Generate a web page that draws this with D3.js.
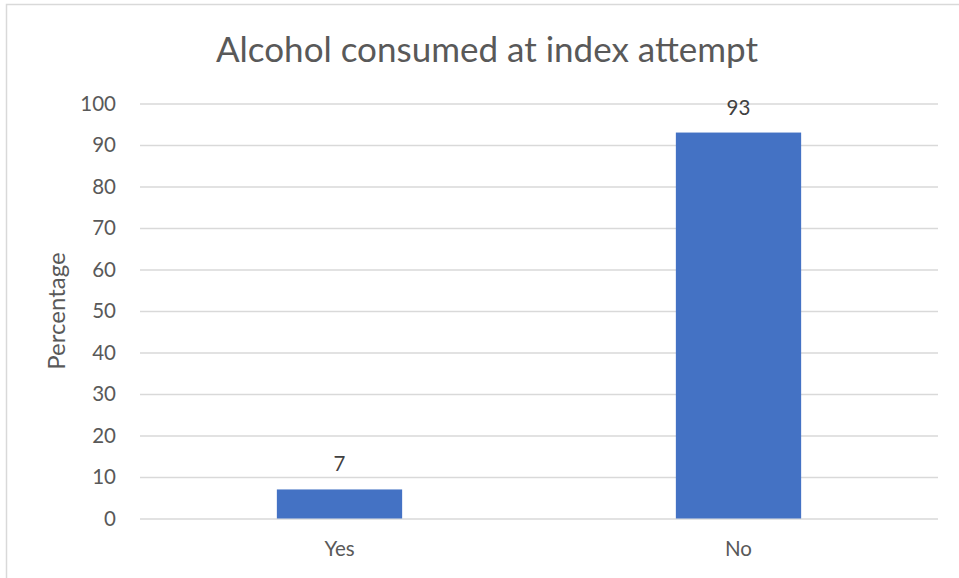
<!DOCTYPE html>
<html>
<head>
<meta charset="utf-8">
<script src="https://cdn.jsdelivr.net/npm/d3@7"></script>
<style>
  html, body { margin: 0; padding: 0; background: #fff; }
  svg { display: block; }
  text { font-family: Lato, "Open Sans", sans-serif; }
</style>
</head>
<body>
<svg id="chart" width="959" height="578"></svg>
<script>
// Share of attempts with alcohol consumed
const categories = ["Yes", "No"];
const values = [7, 93];
const yTicks = [0, 10, 20, 30, 40, 50, 60, 70, 80, 90, 100];
const titleText = "Alcohol consumed at index attempt";
const yAxisTitle = "Percentage";

const W = 959, H = 578;
const margin = { top: 103.5, right: 21, bottom: 59.5, left: 140 };
const svg = d3.select("#chart");

// Chart frame
svg.append("rect")
  .attr("x", 6.5).attr("y", 4.5)
  .attr("width", W + 10).attr("height", H + 10)
  .attr("fill", "#fff")
  .attr("stroke", "#d9d9d9")
  .attr("stroke-width", 1.5);

const x = d3.scaleBand()
  .domain(categories)
  .range([margin.left, W - margin.right])
  .padding(0);

const y = d3.scaleLinear()
  .domain([0, 100])
  .range([H - margin.bottom, margin.top]);

const barWidth = x.bandwidth() * 0.314;

// Gridlines and tick labels
const yAxis = d3.axisLeft(y)
  .tickValues(yTicks)
  .tickSize(-(W - margin.right - margin.left))
  .tickPadding(24);

const gy = svg.append("g")
  .attr("transform", `translate(${margin.left},0)`)
  .call(yAxis);
gy.select(".domain").remove();
gy.selectAll(".tick line")
  .attr("stroke", "#d9d9d9")
  .attr("stroke-width", 1.4);
gy.selectAll(".tick text")
  .attr("fill", "#595959")
  .attr("font-size", "20.5px")
  .style("font-family", "Lato, sans-serif");

// Bars
svg.append("g")
  .selectAll("rect")
  .data(categories)
  .join("rect")
  .attr("x", (d) => x(d) + x.bandwidth() / 2 - barWidth / 2)
  .attr("width", barWidth)
  .attr("y", (d, i) => y(values[i]))
  .attr("height", (d, i) => y(0) - y(values[i]))
  .attr("fill", "#4472c4");

// Value labels
svg.append("g")
  .selectAll("text")
  .data(categories)
  .join("text")
  .attr("x", (d) => x(d) + x.bandwidth() / 2)
  .attr("y", (d, i) => y(values[i]) - 18)
  .attr("text-anchor", "middle")
  .attr("fill", "#404040")
  .attr("font-size", "20.5px")
  .text((d, i) => values[i]);

// Category axis
const xAxis = d3.axisBottom(x).tickSize(0).tickPadding(23);
const gx = svg.append("g")
  .attr("transform", `translate(0,${H - margin.bottom})`)
  .call(xAxis);
gx.select(".domain").remove();
gx.selectAll(".tick text")
  .attr("fill", "#595959")
  .attr("font-size", "20.5px")
  .style("font-family", "Lato, sans-serif");

// Title
svg.append("text")
  .attr("x", (margin.left + W - margin.right) / 2 - 52)
  .attr("y", 62)
  .attr("text-anchor", "middle")
  .attr("fill", "#595959")
  .attr("font-size", "35px")
  .text(titleText);

// Y axis title
svg.append("text")
  .attr("transform", `translate(65,${(y(0) + y(100)) / 2}) rotate(-90)`)
  .attr("text-anchor", "middle")
  .attr("fill", "#595959")
  .attr("font-size", "24px")
  .text(yAxisTitle);
</script>
</body>
</html>
